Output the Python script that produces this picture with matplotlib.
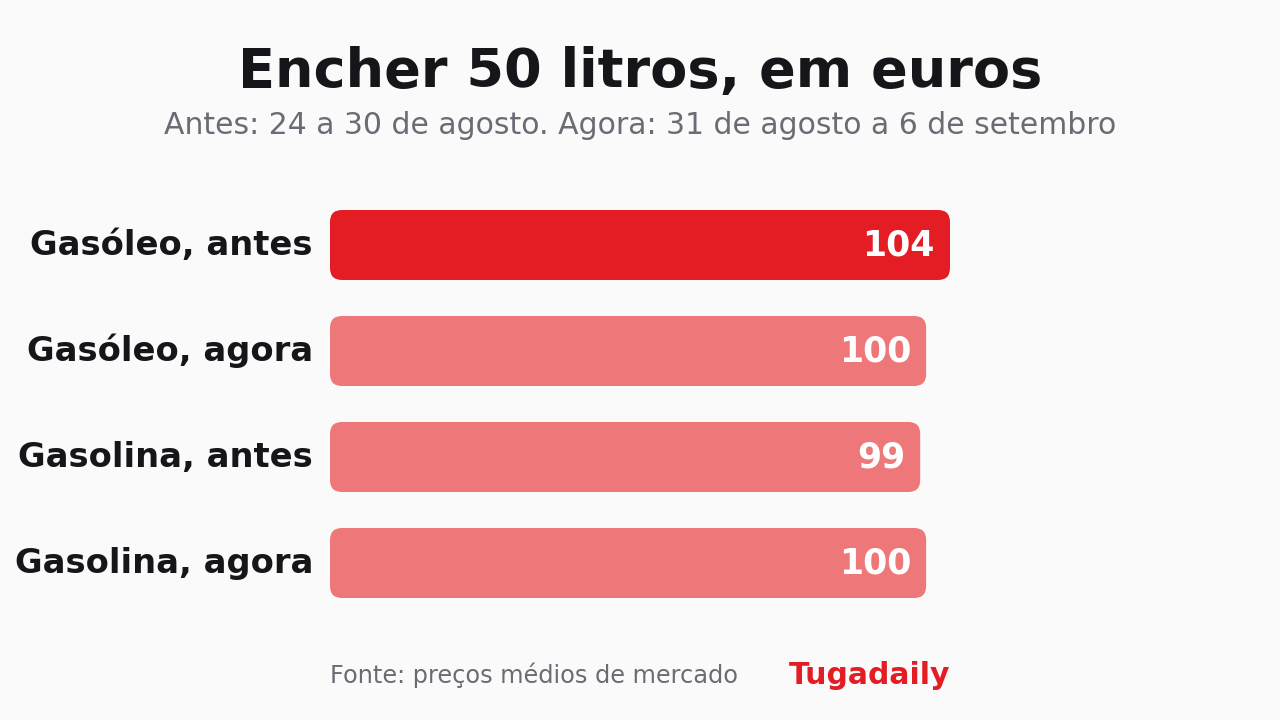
import matplotlib

matplotlib.use("Agg")
import matplotlib.pyplot as plt
from matplotlib.patches import FancyBboxPatch

# data
categories = ["Gasóleo, antes", "Gasóleo, agora", "Gasolina, antes", "Gasolina, agora"]
values = [104, 100, 99, 100]
highlight = [True, False, False, False]

TITLE = "Encher 50 litros, em euros"
SUBTITLE = "Antes: 24 a 30 de agosto. Agora: 31 de agosto a 6 de setembro"
SOURCE = "Fonte: preços médios de mercado"
BRAND = "Tugadaily"

BG = "#FAFAFA"
RED = "#E41C24"
LIGHT = "#EE7779"
DARK = "#16161A"
GREY = "#6B6B75"

W, H = 1280, 720
fig = plt.figure(figsize=(W / 100, H / 100), dpi=100, facecolor=BG)

# axes placed in pixel terms: x=0 at px 330, 104 at px 950; rows 106 px apart
ax_left, ax_right = 330, 950
ax_top, ax_bot = 192, 616
ax = fig.add_axes([ax_left / W, 1 - ax_bot / H, (ax_right - ax_left) / W, (ax_bot - ax_top) / H])
ax.set_facecolor(BG)
ax.set_xlim(0, 104)
ax.set_ylim(len(categories) - 0.5, -0.5)
ax.axis("off")

px_x = 104 / (ax_right - ax_left)          # data units per pixel, x
px_y = len(categories) / (ax_bot - ax_top)  # data units per pixel, y
bar_h = 70 * px_y
radius = 12 * px_x

for i, (cat, val, hl) in enumerate(zip(categories, values, highlight)):
    box = FancyBboxPatch((0, i - bar_h / 2), val, bar_h,
                         boxstyle=f"round,pad=0,rounding_size={radius}",
                         mutation_aspect=px_y / px_x,
                         facecolor=RED if hl else LIGHT, edgecolor="none")
    ax.add_patch(box)
    ax.text(val - 15 * px_x, i + 1 * px_y, str(val), ha="right", va="center",
            color="white", fontsize=25, fontweight="bold")
    ax.text(-17 * px_x, i, cat, ha="right", va="center", color=DARK,
            fontsize=24.3, fontweight="bold", clip_on=False)

fig.text(0.5, 1 - 72 / H, TITLE, ha="center", va="center", color=DARK,
         fontsize=39, fontweight="bold")
fig.text(0.5, 1 - 125 / H, SUBTITLE, ha="center", va="center", color=GREY, fontsize=21.5)
fig.text(330 / W, 1 - 675 / H, SOURCE, ha="left", va="center", color=GREY, fontsize=17.3)
fig.text(950 / W, 1 - 675 / H, BRAND, ha="right", va="center", color=RED,
         fontsize=21.5, fontweight="bold")

fig.savefig("out.png", dpi=100, facecolor=BG)
